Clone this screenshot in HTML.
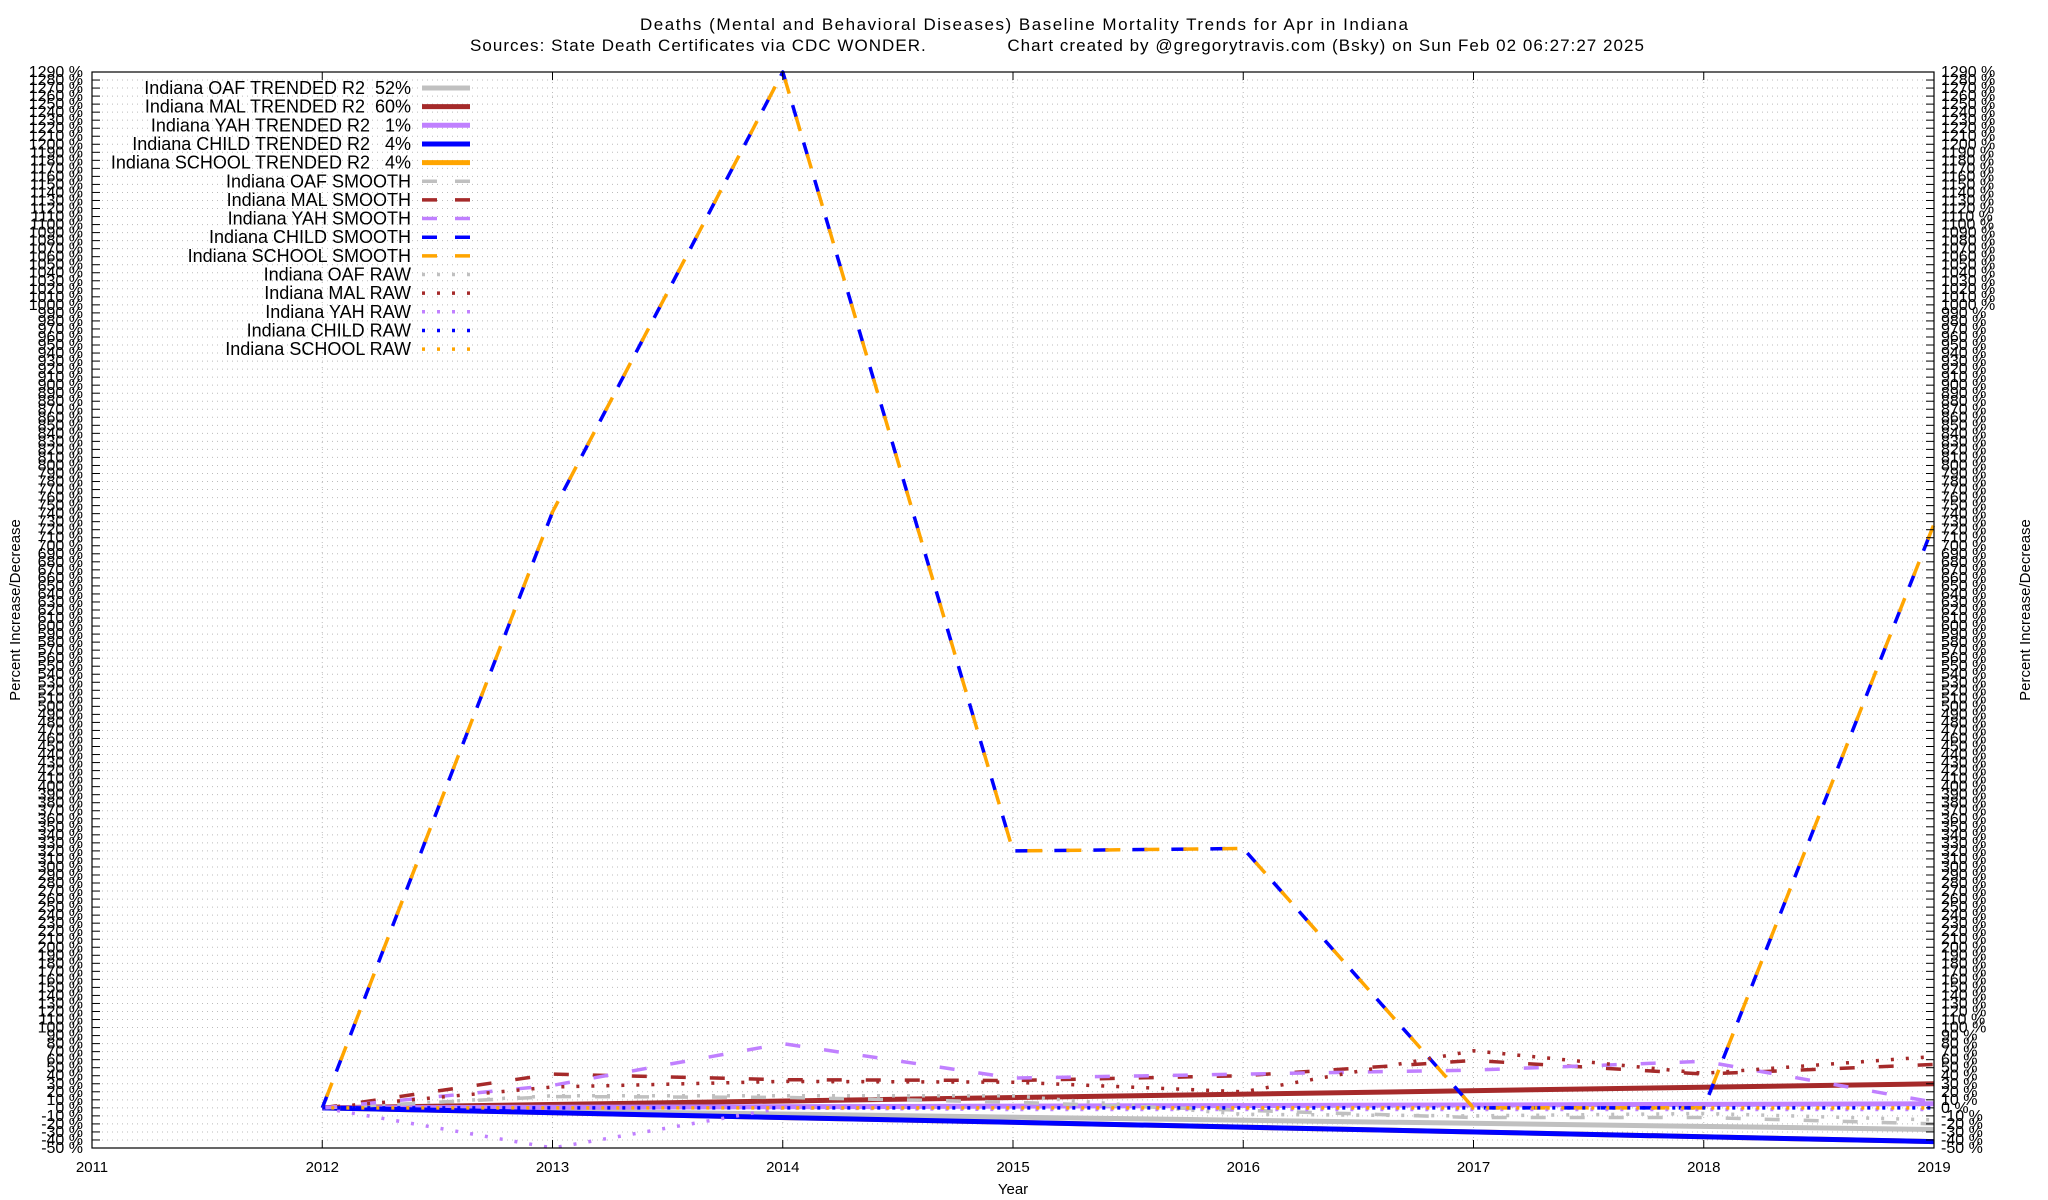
<!DOCTYPE html>
<html><head><meta charset="utf-8"><title>Indiana Mortality Trends</title>
<style>
html,body{margin:0;padding:0;background:#fff;}
svg{display:block;font-family:"Liberation Sans",Arial,sans-serif;}
.pre{white-space:pre;}
</style></head>
<body>
<svg id="chart" width="2048" height="1200" viewBox="0 0 2048 1200" xmlns="http://www.w3.org/2000/svg">
<rect x="0" y="0" width="2048" height="1200" fill="#fff"/>
<text x="1024" y="30" text-anchor="middle" font-size="17" textLength="768">Deaths (Mental and Behavioral Diseases)  Baseline Mortality Trends for Apr in Indiana</text>
<text class="pre" x="1057" y="51" text-anchor="middle" font-size="17" textLength="1174">Sources: State Death Certificates via CDC WONDER.              Chart created by @gregorytravis.com (Bsky) on Sun Feb 02 06:27:27 2025</text>
<g id="grid"></g>
<g id="series"></g>
<g id="axes"></g>
<g id="legend"></g>
<text x="0" y="0" transform="translate(20,610) rotate(-90)" text-anchor="middle" font-size="15">Percent Increase/Decrease</text>
<text x="0" y="0" transform="translate(2030,610) rotate(-90)" text-anchor="middle" font-size="15">Percent Increase/Decrease</text>
<text x="1013" y="1194" text-anchor="middle" font-size="15">Year</text>
</svg>
<script>
const years = [2012, 2013, 2014, 2015, 2016, 2017, 2018, 2019];
const xTickLabels = ["2011","2012","2013","2014","2015","2016","2017","2018","2019"];
const oafRaw = [0, 15, 15, 15, -8, -10, -7, -15];
const malRaw = [0, 26, 33, 32, 20, 71, 43, 64];
const yahRaw = [0, -50, 0, -2, -2, -2, -2, -2];
const childRaw = [0, 0, 0, 0, 0, 0, 0, 0];
const schoolRaw = [0, 0, 0, 0, 0, 0, 0, 0];
const oafSmooth = [0, 14, 13, 7, -3, -12, -12, -20];
const malSmooth = [0, 42, 35, 34, 40, 59, 42, 54];
const yahSmooth = [0, 28, 80, 37, 42, 47, 58, 7];
const childSmooth = [0, 742, 1290, 320, 323, 0, 0, 727];
const schoolSmooth = [0, 742, 1290, 320, 323, 0, 0, 727];
const oafTrend = [0, -27];
const malTrend = [0, 30];
const yahTrend = [0, 5];
const childTrend = [0, -42];
const schoolTrend = [0, -42];
const trendYears = [2012, 2019];
const legendLabels = ["Indiana OAF TRENDED R2  52%","Indiana MAL TRENDED R2  60%","Indiana YAH TRENDED R2   1%","Indiana CHILD TRENDED R2   4%","Indiana SCHOOL TRENDED R2   4%","Indiana OAF SMOOTH","Indiana MAL SMOOTH","Indiana YAH SMOOTH","Indiana CHILD SMOOTH","Indiana SCHOOL SMOOTH","Indiana OAF RAW","Indiana MAL RAW","Indiana YAH RAW","Indiana CHILD RAW","Indiana SCHOOL RAW"];

const NS = "http://www.w3.org/2000/svg";
const L = 92, R = 1934, T = 72, B = 1148;
const YMIN = -50, YMAX = 1290;
function xs(yr){ return L + (yr - 2011) * (R - L) / 8; }
function ys(v){ return B - (v - YMIN) * (B - T) / (YMAX - YMIN); }
function mk(tag, attrs, parent){
  const e = document.createElementNS(NS, tag);
  for (const k in attrs) e.setAttribute(k, attrs[k]);
  parent.appendChild(e);
  return e;
}
const grid = document.getElementById('grid');
const axes = document.getElementById('axes');
const ser = document.getElementById('series');
const leg = document.getElementById('legend');

for (let v = YMIN; v <= YMAX; v += 10) {
  const y = ys(v);
  if (v > YMIN && v < YMAX) {
    const g = mk('line', {x1:L, x2:R, y1:y, y2:y, stroke:'#bbb', 'stroke-width':1, 'stroke-dasharray':'1 4'}, grid);
    
    
  }
  const t1 = mk('line', {x1:L, x2:L+8, y1:y, y2:y, stroke:'#000', 'stroke-width':1}, axes);
  
  
  const t2 = mk('line', {x1:R-8, x2:R, y1:y, y2:y, stroke:'#000', 'stroke-width':1}, axes);
  
  
  const lab = mk('text', {x:83, y:y+5, 'text-anchor':'end', 'font-size':16}, axes);
  lab.textContent = v + ' %';
  
  
  const lab2 = mk('text', {x:1941, y:y+5, 'text-anchor':'start', 'font-size':16}, axes);
  lab2.textContent = v + ' %';
  
  
}
xTickLabels.forEach(function(lbl){
  const yr = parseInt(lbl, 10);
  const x = xs(yr);
  if (yr > 2011 && yr < 2019) {
    const g = mk('line', {x1:x, x2:x, y1:T, y2:B, stroke:'#bbb', 'stroke-width':1, 'stroke-dasharray':'1 4'}, grid);
    
    
  }
  const tk = mk('line', {x1:x, x2:x, y1:B-8, y2:B, stroke:'#000', 'stroke-width':1}, axes);
  
  
  const tk2 = mk('line', {x1:x, x2:x, y1:T, y2:T+8, stroke:'#000', 'stroke-width':1}, axes);
  
  
  const t = mk('text', {x:x, y:1172, 'text-anchor':'middle', 'font-size':15}, axes);
  t.textContent = lbl;
  
  
});
const frame = mk('rect', {x:L, y:T, width:R-L, height:B-T, fill:'none', stroke:'#000', 'stroke-width':1.2}, axes);



function pts(xv, vals){ return vals.map(function(v,i){ return xs(xv[i]).toFixed(1) + ',' + ys(v).toFixed(1); }).join(' '); }
const styles = {
  trend: {w:5, dash:null},
  smooth: {w:3.5, dash:'15 24'},
  raw: {w:3.5, dash:'3 12'}
};
function drawSeries(name, xv, vals, color, kind, offset){
  const st = styles[kind];
  const a = {points: pts(xv, vals), fill:'none', stroke:color, 'stroke-width':st.w, 'stroke-linecap':'butt', 'stroke-linejoin':'round'};
  if (st.dash) a['stroke-dasharray'] = st.dash;
  if (offset) a['stroke-dashoffset'] = offset;
  const p = mk('polyline', a, ser);
  
  
}
const C = {oaf:'#c0c0c0', mal:'#a52a2a', yah:'#c080ff', child:'#0000ff', school:'#ffa500'};
drawSeries('school-trend-line', trendYears, schoolTrend, C.school, 'trend');
drawSeries('oaf-trend-line', trendYears, oafTrend, C.oaf, 'trend');
drawSeries('mal-trend-line', trendYears, malTrend, C.mal, 'trend');
drawSeries('yah-trend-line', trendYears, yahTrend, C.yah, 'trend');
drawSeries('child-trend-line', trendYears, childTrend, C.child, 'trend');
drawSeries('oaf-smooth-line', years, oafSmooth, C.oaf, 'smooth');
drawSeries('mal-smooth-line', years, malSmooth, C.mal, 'smooth');
drawSeries('yah-smooth-line', years, yahSmooth, C.yah, 'smooth');
drawSeries('child-smooth-line', years, childSmooth, C.child, 'smooth');
drawSeries('school-smooth-line', years, schoolSmooth, C.school, 'smooth', -12);
drawSeries('oaf-raw-line', years, oafRaw, C.oaf, 'raw');
drawSeries('mal-raw-line', years, malRaw, C.mal, 'raw');
drawSeries('yah-raw-line', years, yahRaw, C.yah, 'raw');
drawSeries('child-raw-line', years, childRaw, C.child, 'raw');
drawSeries('school-raw-line', years, schoolRaw, C.school, 'raw', 6);

const legColors = [C.oaf, C.mal, C.yah, C.child, C.school];
const legKinds = ['trend','smooth','raw'];
legendLabels.forEach(function(lbl, i){
  const y = 88 + i * 18.65;
  const kind = legKinds[Math.floor(i / 5)];
  const col = legColors[i % 5];
  const t = mk('text', {x:411, y:y+6, 'text-anchor':'end', 'font-size':18, 'class':'pre'}, leg);
  t.textContent = lbl;
  
  
  const st = styles[kind];
  const la = {x1:422, x2:470, y1:y, y2:y, stroke:col, 'stroke-width':st.w};
  if (kind === 'smooth') la['stroke-dasharray'] = '15 18';
  if (kind === 'raw') la['stroke-dasharray'] = '3 12';
  const ln = mk('line', la, leg);
  
  
});
</script>
</body></html>
